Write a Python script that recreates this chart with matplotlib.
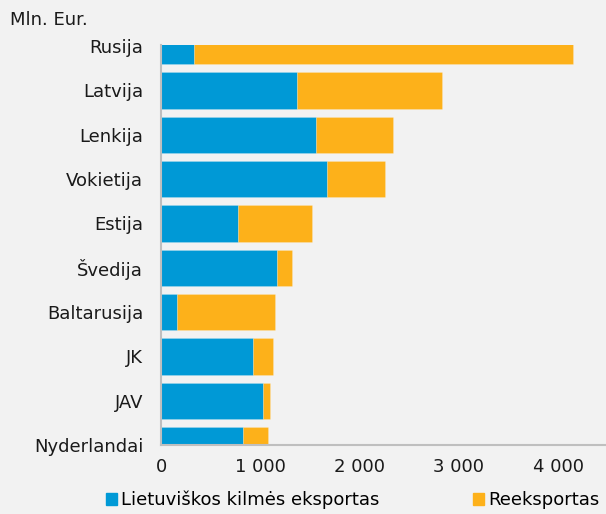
import matplotlib.pyplot as plt
from matplotlib.patches import Patch

# Lietuvos eksportas pagal salis, mln. Eur
salys = ["Rusija", "Latvija", "Lenkija", "Vokietija", "Estija",
         "Švedija", "Baltarusija", "JK", "JAV", "Nyderlandai"]
lt_kilmes = [329, 1371, 1560, 1670, 773, 1166, 158, 927, 1025, 824]
reeksportas = [3818, 1459, 773, 582, 746, 155, 988, 196, 74, 252]
x_ticks = [0, 1000, 2000, 3000, 4000]
x_labels = ["0", "1 000", "2 000", "3 000", "4 000"]

melyna = "#0099d6"
oranzine = "#fdb11a"
fonas = "#f2f2f2"

fig = plt.figure(figsize=(6.06, 5.14), dpi=100, facecolor=fonas)
ax = fig.add_axes([0.266, 0.134, 0.734, 0.778], facecolor=fonas)

y = list(range(len(salys)))[::-1]
ax.barh(y, lt_kilmes, height=0.82, color=melyna,
        edgecolor=(1, 1, 1, 0.2), linewidth=0.6)
ax.barh(y, reeksportas, left=lt_kilmes, height=0.82, color=oranzine,
        edgecolor=(1, 1, 1, 0.2), linewidth=0.6)

ax.set_ylim(0, 9.02)
ax.set_xlim(0, 4483)
ax.set_yticks(y)
ax.set_yticklabels(salys)
ax.set_xticks(x_ticks)
ax.set_xticklabels(x_labels)
ax.tick_params(axis="both", length=0, labelsize=13, colors="#1a1a1a")
ax.tick_params(axis="y", pad=13)
ax.tick_params(axis="x", pad=9)

for s in ["top", "right"]:
    ax.spines[s].set_visible(False)
for s in ["left", "bottom"]:
    ax.spines[s].set_color("#bfbfbf")
    ax.spines[s].set_linewidth(1.5)

fig.text(10 / 606, 1 - 20 / 514, "Mln. Eur.", fontsize=13,
         color="#1a1a1a", ha="left", va="center")

rankenos = [Patch(color=melyna, label="Lietuviškos kilmės eksportas"),
            Patch(color=oranzine, label="Reeksportas")]
fig.legend(handles=rankenos, loc="center left",
           bbox_to_anchor=(106 / 606, 1 - 500 / 514), ncol=2,
           frameon=False, fontsize=13, handlelength=0.62,
           handleheight=0.62, handletextpad=0.2, columnspacing=5.2,
           borderaxespad=0, borderpad=0)

fig.savefig("out.png", dpi=100, facecolor=fonas)
